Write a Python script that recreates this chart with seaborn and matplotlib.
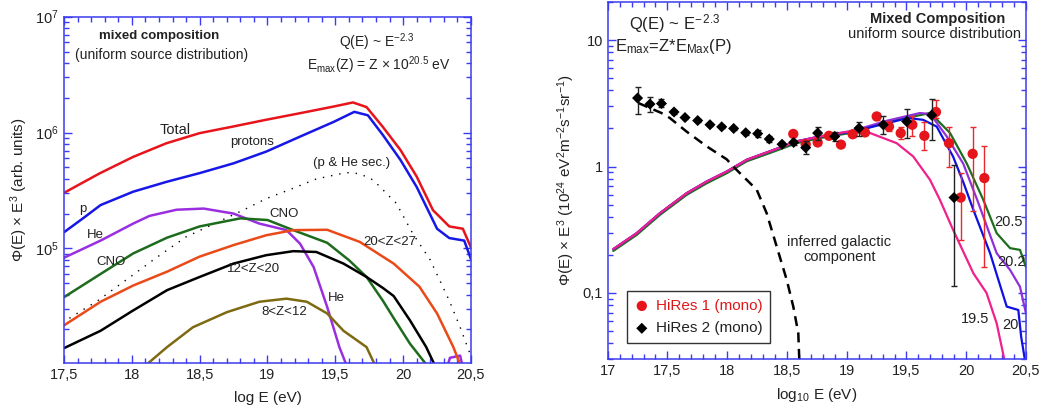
import numpy as np
import seaborn as sns
import matplotlib.pyplot as plt
from matplotlib.ticker import MultipleLocator, FuncFormatter, LogLocator, NullFormatter

# ---------------- left panel data (log E, flux x E^3, arb. units) ----------------
total_x = [17.5, 17.765, 18.01, 18.255, 18.5, 18.75, 18.99, 19.24, 19.49, 19.63, 19.73, 19.85, 19.98, 20.10, 20.22, 20.34, 20.44, 20.5]
total_y = [3.02e5, 4.46e5, 6.17e5, 8.09e5, 9.89e5, 1.13e6, 1.29e6, 1.47e6, 1.68e6, 1.82e6, 1.66e6, 1.12e6, 7.08e5, 4.17e5, 2.14e5, 1.55e5, 1.48e5, 1.02e5]

prot_x = [17.5, 17.64, 17.77, 18.01, 18.26, 18.5, 18.75, 18.99, 19.24, 19.49, 19.64, 19.74, 19.85, 19.98, 20.10, 20.25, 20.34, 20.45, 20.5]
prot_y = [1.38e5, 1.82e5, 2.37e5, 3.09e5, 3.77e5, 4.47e5, 5.43e5, 6.85e5, 9.23e5, 1.24e6, 1.51e6, 1.41e6, 9.55e5, 5.81e5, 3.39e5, 1.48e5, 1.23e5, 1.17e5, 8.1e4]

sec_x = [17.54, 17.75, 17.96, 18.18, 18.40, 18.62, 18.82, 18.99, 19.19, 19.36, 19.58, 19.68, 19.78, 19.95, 20.07, 20.20, 20.34, 20.42, 20.49]
sec_y = [2.5e4, 3.55e4, 5.37e4, 8.32e4, 1.26e5, 1.66e5, 2.14e5, 2.69e5, 3.31e5, 3.98e5, 4.52e5, 4.42e5, 3.89e5, 2.45e5, 1.35e5, 7.94e4, 3.55e4, 2.09e4, 1.26e4]

he_x = [17.5, 17.77, 18.01, 18.13, 18.33, 18.53, 18.75, 18.94, 19.14, 19.24, 19.34, 19.44, 19.53, 19.58]
he_y = [8.32e4, 1.17e5, 1.64e5, 1.91e5, 2.16e5, 2.21e5, 2.0e5, 1.64e5, 1.44e5, 1.10e5, 6.92e4, 3.13e4, 1.41e4, 1.0e4]
he_tail_x = [20.33, 20.345, 20.42, 20.435]
he_tail_y = [1.0e4, 1.14e4, 1.19e4, 1.0e4]

cno_x = [17.5, 17.77, 18.01, 18.26, 18.5, 18.80, 19.0, 19.19, 19.44, 19.6, 19.73, 19.85, 19.93, 20.05, 20.17]
cno_y = [3.80e4, 6.03e4, 9.06e4, 1.24e5, 1.55e5, 1.82e5, 1.76e5, 1.44e5, 1.12e5, 7.94e4, 5.69e4, 3.55e4, 2.51e4, 1.51e4, 1.0e4]

z2027_x = [17.5, 17.77, 18.01, 18.26, 18.5, 18.75, 18.99, 19.19, 19.44, 19.68, 19.93, 20.12, 20.25, 20.37, 20.42]
z2027_y = [2.17e4, 3.47e4, 4.79e4, 6.31e4, 8.51e4, 1.07e5, 1.30e5, 1.44e5, 1.45e5, 1.14e5, 7.41e4, 4.68e4, 2.75e4, 1.41e4, 1.0e4]

z1220_x = [17.5, 17.77, 18.01, 18.26, 18.5, 18.75, 18.99, 19.19, 19.36, 19.56, 19.73, 19.85, 19.93, 20.05, 20.17, 20.23]
z1220_y = [1.38e4, 1.95e4, 2.92e4, 4.37e4, 5.68e4, 7.41e4, 8.75e4, 9.48e4, 9.33e4, 7.41e4, 5.68e4, 4.57e4, 3.89e4, 2.40e4, 1.41e4, 1.0e4]

z812_x = [18.11, 18.26, 18.45, 18.70, 18.94, 19.14, 19.29, 19.44, 19.56, 19.73, 19.79]
z812_y = [1.0e4, 1.41e4, 2.09e4, 2.82e4, 3.47e4, 3.69e4, 3.47e4, 2.75e4, 1.95e4, 1.41e4, 1.0e4]

# ---------------- right panel data ----------------
low_x = [17.047, 17.243, 17.438, 17.661, 17.828, 17.996, 18.163, 18.358, 18.58, 18.777]
low_y = [0.222, 0.297, 0.428, 0.615, 0.760, 0.912, 1.13, 1.32, 1.58, 1.73]

m195_x = low_x + [19.0, 19.196, 19.418, 19.557, 19.697, 19.78, 19.89, 20.06, 20.17, 20.255, 20.32]
m195_y = low_y + [1.88, 1.84, 1.53, 1.20, 0.785, 0.545, 0.316, 0.143, 0.100, 0.0575, 0.0295]

m20_x = low_x + [19.055, 19.335, 19.516, 19.64, 19.753, 19.89, 19.976, 20.06, 20.20, 20.339, 20.436, 20.46, 20.49]
m20_y = low_y + [1.89, 2.20, 2.42, 2.34, 2.07, 1.20, 0.75, 0.454, 0.206, 0.078, 0.0733, 0.045, 0.030]

m202_x = low_x + [19.055, 19.335, 19.613, 19.70, 19.837, 19.976, 20.10, 20.255, 20.367, 20.45, 20.5]
m202_y = low_y + [1.92, 2.30, 2.65, 2.60, 1.73, 1.05, 0.52, 0.206, 0.152, 0.112, 0.069]

m205_x = low_x + [19.055, 19.335, 19.613, 19.70, 19.865, 20.004, 20.143, 20.255, 20.367, 20.45, 20.5]
m205_y = [0.215, 0.288, 0.415, 0.597, 0.737, 0.885, 1.10, 1.28, 1.53, 1.68] + [1.86, 2.25, 2.55, 2.65, 1.84, 1.06, 0.545, 0.297, 0.226, 0.219, 0.16]

gal_x = [17.256, 17.45, 17.52, 17.66, 17.83, 17.996, 18.05, 18.247, 18.33, 18.414, 18.498, 18.553, 18.595, 18.603]
gal_y = [3.18, 2.65, 2.42, 1.89, 1.44, 1.14, 1.0, 0.655, 0.428, 0.233, 0.127, 0.078, 0.048, 0.030]

hr1_x = [18.553, 18.657, 18.757, 18.852, 18.952, 19.05, 19.153, 19.251, 19.354, 19.452, 19.549, 19.65, 19.747, 19.856, 19.954, 20.054, 20.152]
hr1_y = [1.81, 1.50, 1.55, 1.75, 1.49, 1.80, 1.86, 2.49, 2.07, 1.84, 2.14, 1.75, 2.70, 1.53, 0.568, 1.26, 0.81]
hr1_lo = [1.74, 1.44, 1.49, 1.68, 1.43, 1.72, 1.77, 2.32, 1.90, 1.65, 1.75, 1.34, 2.44, 0.99, 0.26, 0.446, 0.16]
hr1_hi = [1.88, 1.56, 1.61, 1.82, 1.55, 1.88, 1.95, 2.67, 2.30, 2.05, 2.49, 2.27, 3.37, 2.07, 0.89, 2.07, 1.44]

hr2_x = [17.25, 17.354, 17.45, 17.555, 17.647, 17.753, 17.856, 17.954, 18.054, 18.155, 18.255, 18.352, 18.459, 18.556, 18.657, 18.757, 18.90, 19.103, 19.306, 19.502, 19.711, 19.898]
hr2_y = [3.48, 3.12, 3.15, 2.70, 2.44, 2.31, 2.14, 2.06, 2.00, 1.85, 1.82, 1.65, 1.50, 1.55, 1.41, 1.84, 1.73, 2.01, 2.14, 2.27, 2.55, 0.568]
hr2_lo = [2.61, 2.72, 2.95, 2.60, 2.36, 2.24, 2.08, 2.00, 1.94, 1.79, 1.70, 1.56, 1.44, 1.49, 1.25, 1.63, 1.60, 1.73, 1.80, 1.68, 1.61, 0.114]
hr2_hi = [4.25, 3.52, 3.40, 2.80, 2.52, 2.38, 2.20, 2.12, 2.06, 1.91, 1.95, 1.75, 1.56, 1.61, 1.58, 2.04, 1.87, 2.27, 2.49, 2.86, 3.45, 1.03]

# ---------------- style ----------------
sns.set_style("ticks")
plt.rcParams['font.family'] = ['Liberation Sans', 'DejaVu Sans']
plt.rcParams['mathtext.fontset'] = 'custom'
plt.rcParams['mathtext.rm'] = 'Liberation Sans'
plt.rcParams['mathtext.default'] = 'regular'
plt.rcParams['text.color'] = '#222222'

AXC = '#3b3bf0'
TXT = '#222222'

fig = plt.figure(figsize=(10.42, 4.12), dpi=100)
ax1 = fig.add_axes([0.0614, 0.118, 0.3906, 0.8415])
ax2 = fig.add_axes([0.5832, 0.1286, 0.4014, 0.8664])


def style_axes(ax):
    ax.set_yscale('log')
    for s in ax.spines.values():
        s.set_color(AXC)
        s.set_linewidth(1.1)
    ax.xaxis.set_major_locator(MultipleLocator(0.5))
    ax.xaxis.set_minor_locator(MultipleLocator(0.1))
    ax.yaxis.set_minor_locator(LogLocator(base=10, subs=np.arange(2, 10)))
    ax.yaxis.set_minor_formatter(NullFormatter())
    ax.tick_params(which='both', direction='in', top=True, right=True, color=AXC,
                   labelsize=10.5, labelcolor=TXT, width=1)
    ax.tick_params(which='major', length=6)
    ax.tick_params(which='minor', length=3.5)
    ax.xaxis.set_major_formatter(FuncFormatter(lambda v, p: ('%g' % v).replace('.', ',')))


def curve(ax, x, y, color, lw=1.8, **kw):
    sns.lineplot(x=x, y=y, ax=ax, color=color, lw=lw, estimator=None, sort=False, **kw)


# ---------------- left panel ----------------
curve(ax1, total_x, total_y, '#e8141c')
curve(ax1, prot_x, prot_y, '#1717e8')
curve(ax1, sec_x, sec_y, 'black', lw=1.0, linestyle=(0, (1, 5)))
curve(ax1, he_x, he_y, '#9a2fe0')
curve(ax1, he_tail_x, he_tail_y, '#9a2fe0')
curve(ax1, cno_x, cno_y, '#1d6b1d')
curve(ax1, z2027_x, z2027_y, '#ea4a18')
curve(ax1, z1220_x, z1220_y, 'black')
curve(ax1, z812_x, z812_y, '#7d6a12')

style_axes(ax1)
ax1.set_xlim(17.5, 20.5)
ax1.set_ylim(1.02e4, 1e7)
ax1.set_xlabel('log E (eV)', fontsize=11, color=TXT, labelpad=6)
ax1.set_ylabel('Φ(E) × E$^3$ (arb. units)', fontsize=11, color=TXT, labelpad=4)

fs = 9.5
ax1.text(17.76, 10**6.835, 'mixed composition', fontsize=9.5, fontweight='bold', va='center')
ax1.text(17.58, 10**6.67, '(uniform source distribution)', fontsize=10, va='center')
ax1.text(19.53, 10**6.78, 'Q(E) ~ E$^{-2.3}$', fontsize=10, va='center')
ax1.text(19.29, 10**6.58, 'E$_{max}$(Z) = Z × 10$^{20.5}$ eV', fontsize=10, va='center')
ax1.text(18.32, 10**6.02, 'Total', fontsize=10.5, ha='center', va='center')
ax1.text(18.89, 10**5.92, 'protons', fontsize=9.5, ha='center', va='center')
ax1.text(19.62, 10**5.74, '(p & He sec.)', fontsize=9.5, ha='center', va='center')
ax1.text(17.64, 10**5.34, 'p', fontsize=fs, ha='center', va='center')
ax1.text(17.73, 10**5.12, 'He', fontsize=fs, ha='center', va='center')
ax1.text(17.85, 10**4.88, 'CNO', fontsize=fs, ha='center', va='center')
ax1.text(19.12, 10**5.30, 'CNO', fontsize=fs, ha='center', va='center')
ax1.text(19.90, 10**5.055, '20<Z<27', fontsize=fs, ha='center', va='center')
ax1.text(18.90, 10**4.82, '12<Z<20', fontsize=fs, ha='center', va='center')
ax1.text(19.51, 10**4.57, 'He', fontsize=fs, ha='center', va='center')
ax1.text(19.12, 10**4.45, '8<Z<12', fontsize=fs, ha='center', va='center')

# ---------------- right panel ----------------
curve(ax2, m205_x, m205_y, '#1f6e1f', lw=1.6)
curve(ax2, m202_x, m202_y, '#9030d8', lw=1.6)
curve(ax2, m20_x, m20_y, '#1010e0', lw=1.6)
curve(ax2, m195_x, m195_y, '#f0208c', lw=1.6)
curve(ax2, gal_x, gal_y, 'black', lw=1.8, linestyle=(0, (4, 2.6)))

hr1_y_a = np.array(hr1_y)
hr2_y_a = np.array(hr2_y)
ax2.errorbar(hr1_x, hr1_y, yerr=[hr1_y_a - np.array(hr1_lo), np.array(hr1_hi) - hr1_y_a],
             fmt='none', ecolor='#e8282c', elinewidth=1, capsize=2.5, zorder=4)
sns.scatterplot(x=hr1_x, y=hr1_y, ax=ax2, marker='o', s=55, color='#e5151b', edgecolor='none',
                label='HiRes 1 (mono)', zorder=5)
ax2.errorbar(hr2_x, hr2_y, yerr=[hr2_y_a - np.array(hr2_lo), np.array(hr2_hi) - hr2_y_a],
             fmt='none', ecolor='#222222', elinewidth=1, capsize=2.5, zorder=6)
sns.scatterplot(x=hr2_x, y=hr2_y, ax=ax2, marker='D', s=32, color='black', edgecolor='none',
                label='HiRes 2 (mono)', zorder=7)

style_axes(ax2)
ax2.set_xlim(17, 20.5)
ax2.set_ylim(0.03, 20)
ax2.yaxis.set_major_formatter(FuncFormatter(lambda v, p: {0.1: '0,1', 1.0: '1', 10.0: '10'}.get(round(v, 3), '')))
ax2.set_xlabel('log$_{10}$ E (eV)', fontsize=11, color=TXT, labelpad=6)
ax2.set_ylabel('Φ(E) × E$^3$ (10$^{24}$ eV$^2$m$^{-2}$s$^{-1}$sr$^{-1}$)', fontsize=11, color=TXT, labelpad=4)

leg = ax2.legend(loc='lower left', bbox_to_anchor=(0.045, 0.045), borderaxespad=0, fontsize=11,
                 frameon=True, fancybox=False, edgecolor='black', handletextpad=0.4,
                 borderpad=0.5, labelspacing=0.55, handlelength=1.0)
leg.get_frame().set_linewidth(1.0)
leg.get_texts()[0].set_color('#e01818')

ax2.text(17.18, 13.5, 'Q(E) ~ E$^{-\\,2.3}$', fontsize=12, va='center')
ax2.text(17.06, 10**0.95, 'E$_{max}$=Z*E$_{Max}$(P)', fontsize=12, va='center')
ax2.text(20.33, 10**1.17, 'Mixed Composition', fontsize=10.5, fontweight='bold', ha='right', va='center')
ax2.text(20.46, 10**1.05, 'uniform source distribution', fontsize=10.5, ha='right', va='center')
ax2.text(18.94, 10**-0.594, 'inferred galactic', fontsize=10.5, ha='center', va='center')
ax2.text(18.94, 10**-0.713, 'component', fontsize=10.5, ha='center', va='center')
ax2.text(20.35, 10**-0.435, '20.5', fontsize=10.5, ha='center', va='center')
ax2.text(20.38, 10**-0.752, '20.2', fontsize=10.5, ha='center', va='center', clip_on=True)
ax2.text(20.07, 10**-1.21, '19.5', fontsize=10.5, ha='center', va='center')
ax2.text(20.37, 10**-1.25, '20', fontsize=10.5, ha='center', va='center')

fig.savefig('out.png', dpi=100)
